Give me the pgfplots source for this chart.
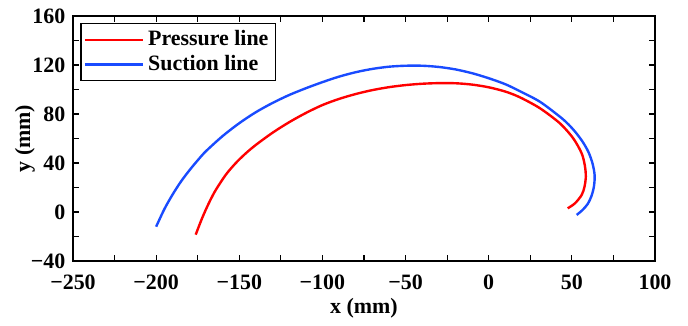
\documentclass[border=0pt]{standalone}
\usepackage{fontspec}
\setmainfont{Liberation Serif}
\usepackage{pgfplots}
\pgfplotsset{compat=1.18}
\definecolor{sucblue}{RGB}{25,75,255}
\definecolor{presred}{RGB}{255,0,0}
\begin{document}
\fontsize{11}{13}\selectfont\bfseries
\begin{tikzpicture}
\begin{axis}[
 scale only axis, width=291bp, height=122.5bp,
 xmin=-250, xmax=100, ymin=-40, ymax=160,
 xtick={-250,-200,...,100}, xticklabels={−250,−200,−150,−100,−50,0,50,100},
 ytick={-40,0,...,160}, yticklabels={−40,0,40,80,120,160},
 minor x tick num=1, minor y tick num=1,
 tick align=inside, major tick length=3bp, minor tick length=3bp,
 axis line style={line width=0.9pt},
 every tick/.style={line width=0.6pt, black},
 xlabel={x (mm)}, ylabel={y (mm)},
 ticklabel style={font=\fontsize{11}{13}\selectfont\bfseries},
 xticklabel style={yshift=-3bp},
 label style={font=\fontsize{11}{13}\selectfont\bfseries},
 xlabel style={yshift=3bp},
 ylabel style={at={(axis description cs:-0.0825,0.5)}, anchor=center},
 legend style={at={(rel axis cs:0.012,0.972)}, anchor=north west, draw=black, line width=0.8pt,
   font=\fontsize{11}{13}\selectfont\bfseries, inner sep=1.5bp, row sep=-1bp},
 legend cell align=left,
 legend image code/.code={\draw[#1] (0bp,0bp) -- (29bp,0bp);},
]
\addplot[presred, line width=1.2pt, smooth] coordinates {
(-176.2,-18.5) (-173,-7.2) (-170,2.3) (-167,10.8) (-164,18.3) (-158,30.6) (-152,40.1)
(-146,48) (-140,54.8) (-130,64.7) (-120,73.3) (-110,80.8) (-100,87.3) (-90,92.3)
(-80,96.3) (-70,99.5) (-60,101.9) (-50,103.6) (-40,104.7) (-30,105.2) (-20,105.1)
(-10,104) (0,101.8) (10,98.3) (18.8,93.6) (30.8,84.7) (42.8,72.4) (50.8,60.2)
(55.9,47.9) (57.8,38) (58.4,29) (57.6,20.5) (55.9,13.9) (51.9,7.1) (47.5,3.0)
};
\addlegendentry{Pressure line}
\addplot[sucblue, line width=1.2pt, smooth] coordinates {
(-200,-12) (-195,2.5) (-190,14.5) (-185,25) (-180,34) (-175,42.2) (-170,49.7)
(-160,62) (-150,72.5) (-140,81.5) (-130,89) (-120,95.5) (-110,101) (-100,106)
(-90,110.5) (-80,114.1) (-70,116.8) (-60,118.6) (-50,119.4) (-40,119.4) (-30,118.4)
(-20,116.4) (-10,113.3) (0,109.2) (10,104.3) (18.8,98.6) (30.8,90) (42.8,77.8)
(47.9,71.6) (52.4,64.8) (56.5,57.3) (59.9,49.2) (62.4,39.8) (63.7,30) (63.3,21)
(61.8,13) (59.5,6.5) (56.4,1.6) (52.9,-2.4)
};
\addlegendentry{Suction line}
\end{axis}
\path ([shift={(-36.5bp,-29.5bp)}]current axis.south west) rectangle ([shift={(16.5bp,8bp)}]current axis.north east);
\end{tikzpicture}
\end{document}
